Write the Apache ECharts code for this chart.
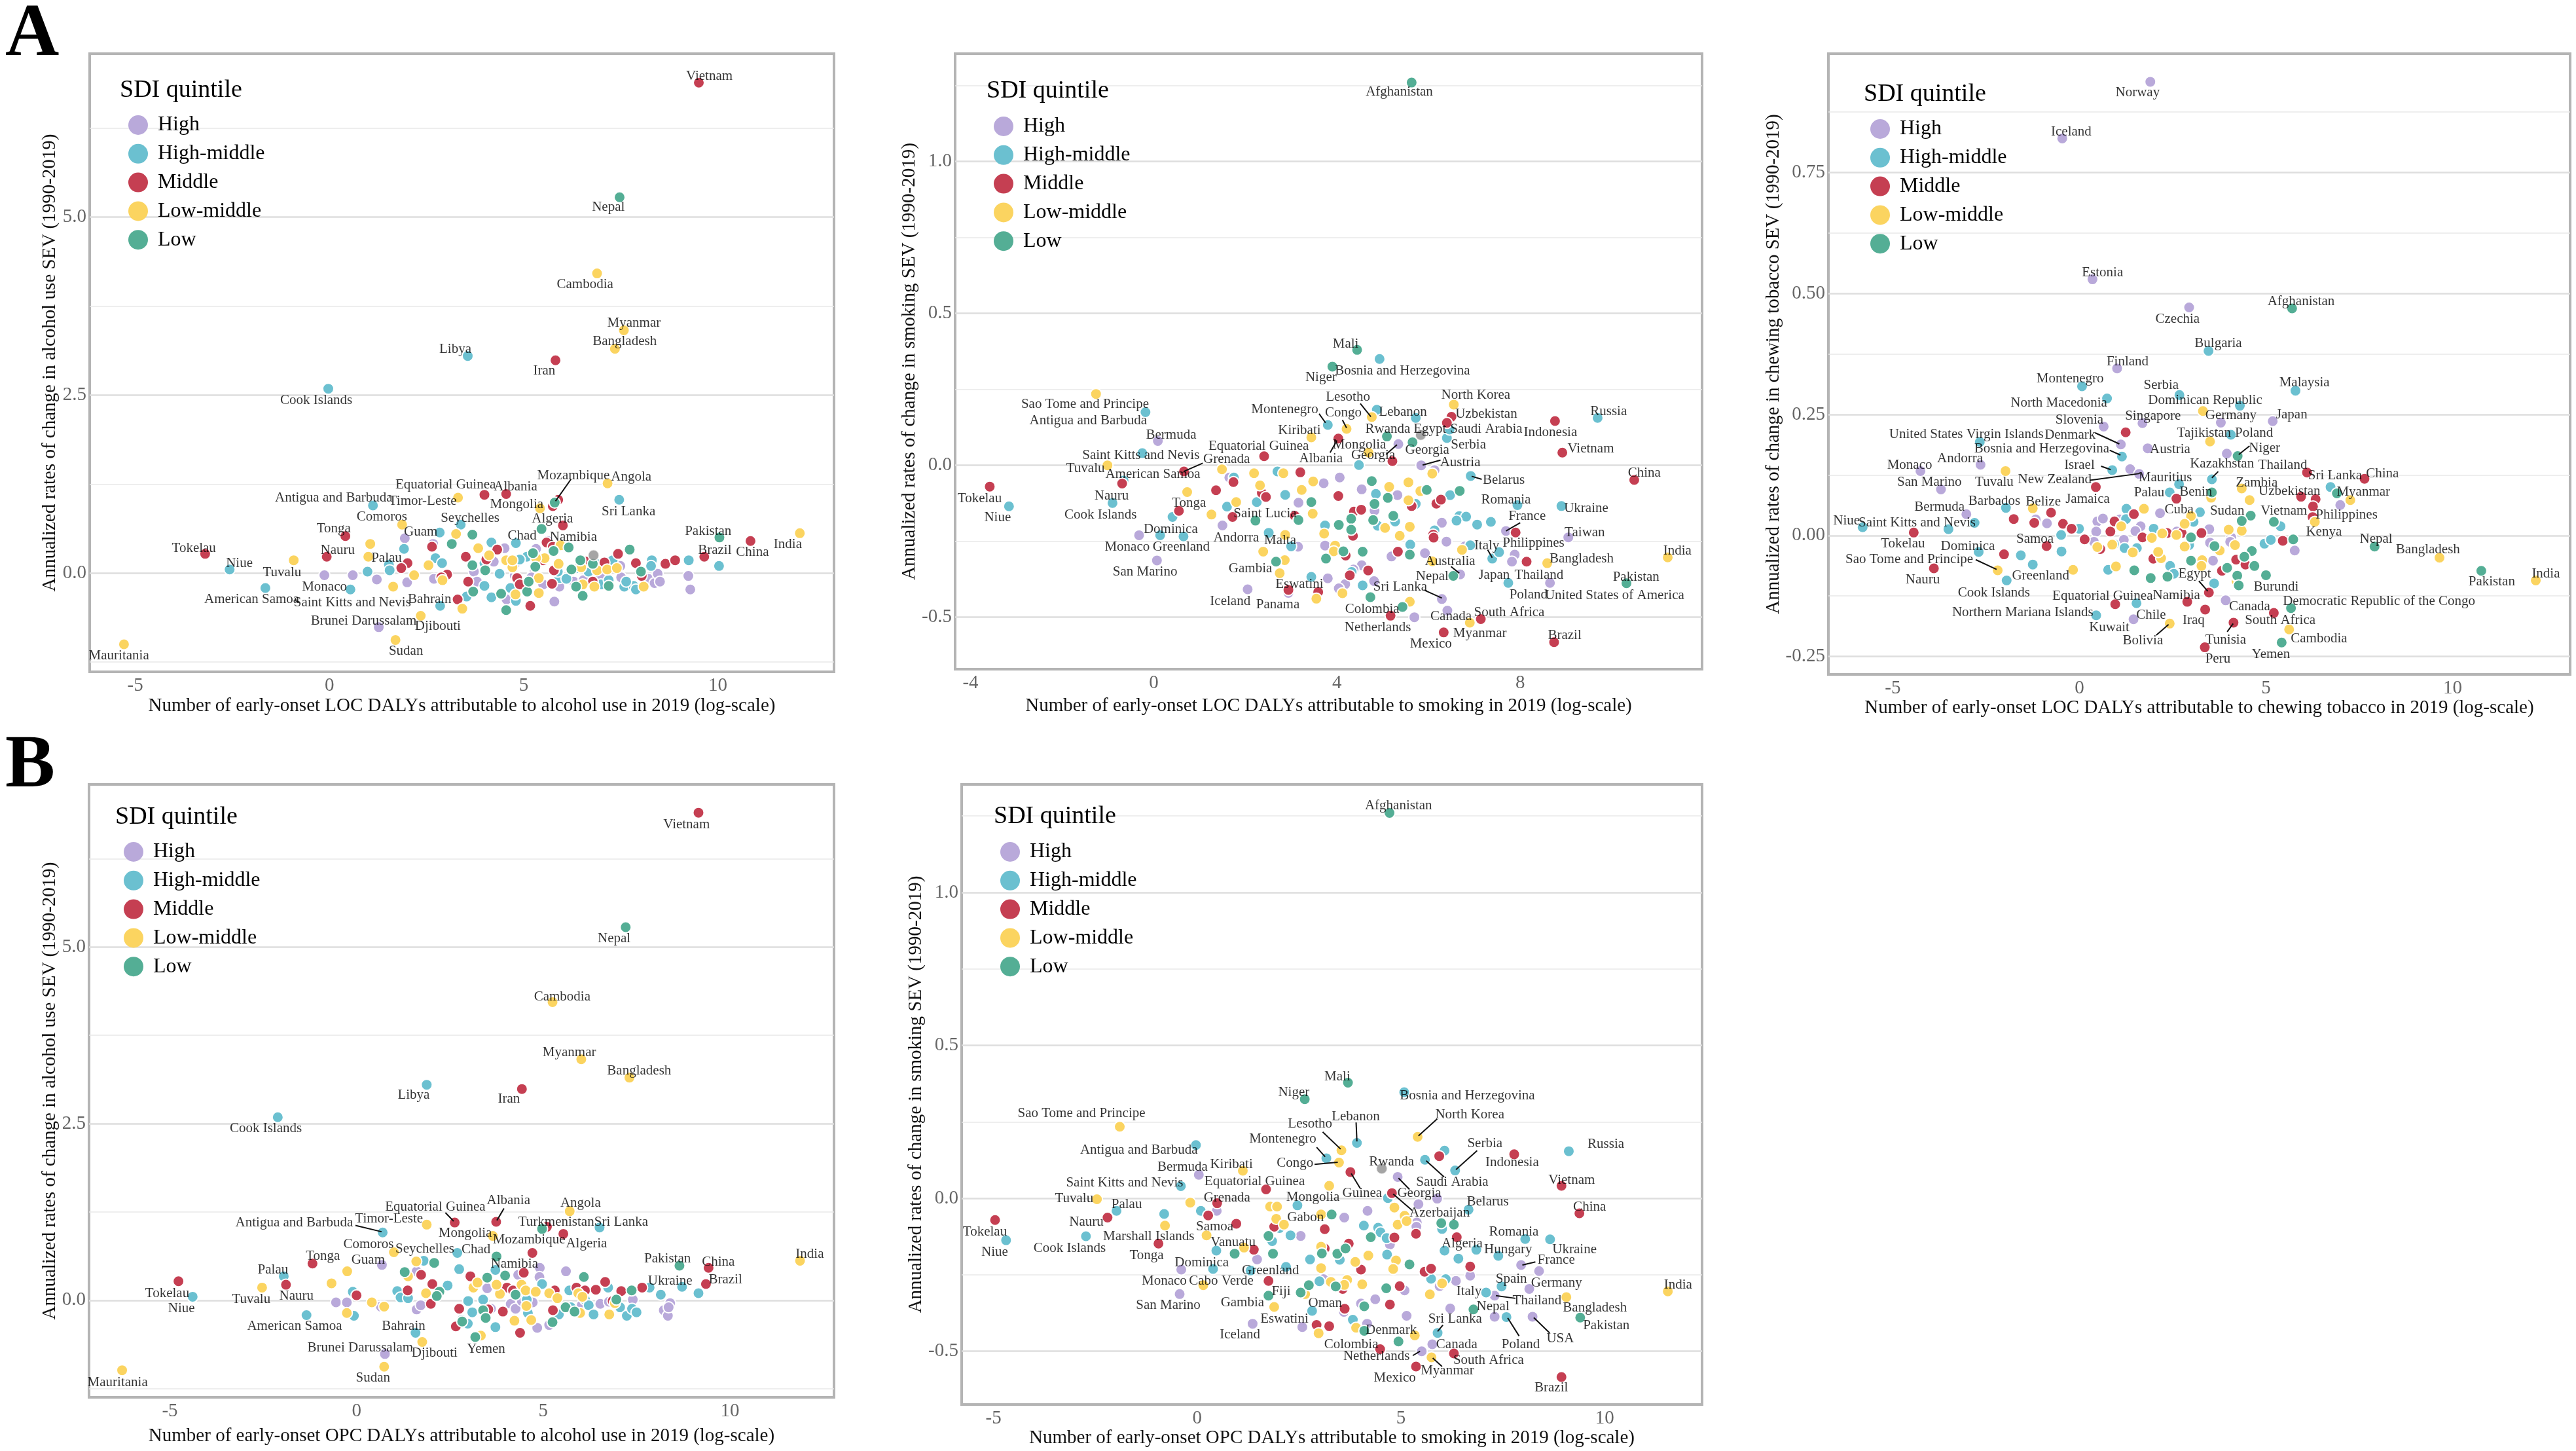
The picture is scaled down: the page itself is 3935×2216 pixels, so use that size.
<!DOCTYPE html>
<html>
<head>
<meta charset="utf-8">
<title>SDI quintile scatter</title>
<style>
html, body { margin: 0; padding: 0; background: #fff; }
#main { width: 3935px; height: 2216px; }
</style>
<script src="https://cdn.jsdelivr.net/npm/echarts@6/dist/echarts.min.js"></script>
</head>
<body>
<div id="main"></div>
<script>
var quintiles = ['High', 'High-middle', 'Middle', 'Low-middle', 'Low'];
var quintileColors = ['#b9a9da', '#6bc0d0', '#c53f52', '#fbd460', '#54ae95'];

// A: LOC, alcohol
var a1High = [[-0.13,-0.03],[0.60,-0.03],[1.22,-0.09],[2.0,-0.13],[1.94,0.49],[2.69,-0.08],[2.67,0.41],[1.27,-0.76],[3.72,0.02],[3.80,-0.12],[4.23,0.16],[4.51,0.35],[4.56,-0.37],[4.77,-0.04],[4.79,0.14],[5.32,0.34],[5.24,-0.02],[5.28,0.02],[5.2,-0.06],[5.5,-0.16],[5.62,0.45],[5.79,-0.40],[5.92,-0.19],[6.29,-0.12],[6.54,-0.10],[6.97,-0.02],[7.49,0.10],[7.51,-0.06],[8.21,-0.08],[8.37,-0.14],[8.45,-0.01],[8.51,-0.12],[9.24,-0.04],[9.29,-0.23]];
var a1HighMiddle = [[-0.03,2.59],[3.56,3.05],[-2.57,0.05],[-1.65,-0.21],[0.54,-0.23],[1.12,0.95],[7.46,1.03],[3.38,0.68],[2.84,0.57],[4.80,0.42],[10.03,0.10],[0.98,0.02],[1.53,0.12],[1.55,0.04],[1.92,0.34],[2.73,0.21],[2.90,0.14],[2.85,-0.46],[3.53,-0.33],[4.17,0.43],[3.99,-0.18],[3.99,0.14],[4.38,-0.01],[4.17,-0.34],[4.80,-0.39],[4.66,-0.21],[5.08,0.23],[4.90,0.19],[5.92,-0.07],[6.10,-0.08],[5.88,0.02],[6.40,0.07],[6.67,0.02],[6.87,0.13],[6.99,-0.16],[7.19,-0.10],[7.29,0.18],[7.59,-0.19],[7.83,-0.18],[7.89,-0.23],[8.30,0.18],[8.28,0.10],[7.64,-0.12],[9.25,0.18]];
var a1Middle = [[9.51,6.89],[5.82,2.99],[5.89,1.03],[4.55,1.11],[3.99,1.10],[5.75,0.94],[6.01,0.67],[0.41,0.52],[10.84,0.45],[9.65,0.23],[-3.20,0.27],[-0.07,0.23],[3.30,-0.37],[2.01,0.14],[1.85,0.07],[2.64,0.37],[3.03,-0.02],[2.88,-0.06],[3.51,0.23],[3.57,-0.12],[4.32,0.33],[4.04,0.19],[5.17,-0.46],[4.83,-0.07],[4.90,-0.16],[5.50,0.18],[5.73,-0.15],[5.78,0.04],[5.59,0.43],[5.75,0.37],[6.61,0.16],[7.08,0.15],[7.43,0.27],[7.89,0.14],[8.04,-0.04],[8.65,0.13],[8.90,0.18],[6.78,-0.12]];
var a1LowMiddle = [[6.89,4.21],[7.58,3.41],[7.35,3.15],[7.16,1.26],[3.31,1.06],[5.42,0.91],[1.87,0.68],[12.11,0.56],[-0.92,0.18],[2.35,-0.60],[1.70,-0.94],[-5.29,-1.0],[1.05,0.41],[1.0,0.23],[2.18,-0.03],[1.64,-0.19],[2.55,0.11],[2.91,-0.10],[3.26,0.55],[3.83,0.35],[4.11,0.25],[4.79,-0.30],[4.55,0.18],[4.71,0.08],[4.71,0.18],[3.42,-0.50],[5.39,-0.28],[5.90,0.13],[5.54,0.21],[5.32,0.21],[5.95,0.39],[5.39,-0.07],[6.48,0.08],[6.89,0.04],[6.52,-0.16],[6.82,-0.19],[7.15,0.05],[7.40,0.07],[8.09,-0.19]];
var a1Low = [[7.47,5.28],[5.80,0.99],[10.04,0.50],[3.68,0.54],[3.15,0.41],[5.46,0.62],[3.68,0.11],[4.01,0.04],[3.70,-0.26],[4.42,-0.29],[4.55,-0.52],[5.09,-0.26],[5.13,-0.12],[5.24,0.28],[5.30,0.09],[5.77,0.31],[6.16,0.36],[6.23,0.05],[6.46,0.18],[6.52,-0.32],[6.35,-0.19],[6.78,0.13],[7.73,0.33],[8.02,0.02],[7.19,-0.18]];
var a1Other = [[6.8,0.25]];
var a1Labels = [['Vietnam',9.78,6.98],['Nepal',7.18,5.14],['Cambodia',6.58,4.05],['Myanmar',7.84,3.51],['Bangladesh',7.60,3.25],['Libya',3.24,3.14],['Iran',5.53,2.84],['Cook Islands',-0.34,2.43],['Mozambique',6.28,1.37],['Angola',7.77,1.35],['Albania',4.79,1.21],['Equatorial Guinea',2.99,1.24],['Timor-Leste',2.40,1.01],['Antigua and Barbuda',0.11,1.06],['Mongolia',4.82,0.96],['Sri Lanka',7.70,0.86],['Algeria',5.74,0.76],['Comoros',1.35,0.79],['Seychelles',3.62,0.77],['Tonga',0.11,0.62],['Guam',2.35,0.58],['Chad',4.96,0.52],['Namibia',6.28,0.50],['Pakistan',9.75,0.59],['China',10.89,0.29],['India',11.80,0.40],['Brazil',9.92,0.32],['Tokelau',-3.49,0.35],['Niue',-2.32,0.14],['Nauru',0.21,0.32],['Tuvalu',-1.22,0.01],['Palau',1.47,0.21],['Monaco',-0.13,-0.20],['American Samoa',-2.0,-0.37],['Saint Kitts and Nevis',0.59,-0.42],['Bahrain',2.58,-0.37],['Brunei Darussalam',0.88,-0.67],['Djibouti',2.79,-0.75],['Sudan',1.97,-1.10],['Mauritania',-5.42,-1.16]];
var a1Links = [[5.82,1.01,6.22,1.32]];

// A: LOC, smoking
var a2High = [[0.09,0.08],[-0.32,-0.23],[0.07,-0.313],[5.34,0.07],[5.84,0],[6.13,-0.016],[7.69,-0.216],[9.05,-0.237],[6.69,-0.359],[7.71,-0.387],[8.65,-0.387],[6.29,-0.44],[6.41,-0.478],[5.69,-0.50],[2.05,-0.408],[2.94,-0.42],[3.15,-0.268],[1.65,-0.04],[1.50,-0.198],[3.71,-0.059],[4.06,-0.04],[4.54,-0.079],[3.16,-0.123],[3.74,-0.264],[4.82,-0.149],[5.32,-0.098],[6.29,-0.189],[6.39,-0.251],[5.92,-0.289],[5.19,-0.30],[6.79,-0.267],[7.88,-0.294],[7.82,-0.317],[4.54,-0.329],[3.80,-0.372],[4.18,-0.391],[4.04,-0.405],[4.81,-0.381],[5.70,-0.127],[4.36,-0.343]];
var a2HighMiddle = [[4.93,0.35],[-0.18,0.175],[-0.25,0.04],[-0.66,-0.05],[-3.16,-0.135],[-0.90,-0.124],[0.41,-0.17],[0.14,-0.23],[0.65,-0.234],[3.80,0.133],[4.87,0.183],[6.40,0.09],[5.72,0.156],[6.46,0.118],[9.69,0.156],[4.48,0.001],[6.92,-0.035],[7.94,-0.131],[8.90,-0.134],[7.39,-0.307],[7.54,-0.286],[7.74,-0.387],[2.51,-0.222],[1.75,-0.04],[2.70,-0.02],[2.25,-0.121],[2.87,-0.097],[1.60,-0.136],[3.74,-0.198],[4.85,-0.094],[4.89,-0.199],[5.27,-0.185],[6.47,-0.098],[5.60,-0.261],[6.67,-0.167],[6.82,-0.169],[6.61,-0.182],[7.06,-0.195],[7.36,-0.186],[6.91,-0.263],[3.44,-0.367],[4.56,-0.395],[5.72,-0.127],[6.13,-0.214],[3.0,-0.267],[4.32,-0.351]];
var a2Middle = [[0.66,-0.02],[-0.69,-0.06],[-3.58,-0.07],[0.55,-0.15],[6.50,0.16],[6.40,0.14],[8.76,0.146],[8.92,0.042],[2.41,0.03],[4.03,0.088],[5.21,0.014],[10.49,-0.048],[7.90,-0.221],[8.14,-0.317],[7.14,-0.506],[6.33,-0.55],[5.17,-0.495],[8.74,-0.582],[2.94,-0.41],[1.74,-0.055],[1.36,-0.082],[1.72,-0.17],[2.36,-0.091],[2.45,-0.104],[3.20,-0.023],[3.08,-0.166],[4.03,-0.101],[4.37,-0.152],[4.53,-0.146],[4.35,-0.232],[4.19,-0.297],[3.59,-0.417],[4.28,-0.362],[4.68,-0.346],[5.33,-0.284],[6.17,-0.126],[6.27,-0.113],[6.10,-0.228],[6.11,-0.238],[5.63,-0.134]];
var a2LowMiddle = [[-1.26,0.235],[-1.01,0],[4.76,0.159],[4.21,0.12],[3.44,0.092],[6.55,0.20],[4.69,0.042],[6.08,-0.027],[11.22,-0.303],[8.59,-0.322],[6.90,-0.518],[5.59,-0.449],[1.49,-0.013],[0.73,-0.088],[1.80,-0.121],[1.26,-0.162],[2.19,-0.026],[2.32,-0.066],[2.83,-0.026],[3.48,-0.053],[3.23,-0.081],[3.47,-0.159],[3.72,-0.225],[3.96,-0.264],[3.93,-0.283],[2.87,-0.229],[2.39,-0.284],[2.86,-0.312],[2.75,-0.355],[3.55,-0.439],[4.12,-0.421],[5.05,-0.206],[5.37,-0.232],[5.59,-0.202],[5.56,-0.056],[5.14,-0.071],[5.82,-0.085],[5.56,-0.115],[6.08,-0.316],[6.73,-0.278]];
var a2Low = [[5.63,1.26],[4.44,0.38],[3.90,0.325],[5.09,0.095],[5.65,0.076],[6.54,-0.364],[10.32,-0.388],[5.43,-0.466],[4.73,-0.434],[2.67,-0.317],[2.22,-0.182],[4.76,-0.052],[3.44,-0.121],[3.16,-0.18],[4.04,-0.196],[4.31,-0.176],[4.31,-0.212],[4.79,-0.18],[4.82,-0.127],[5.11,-0.107],[5.23,-0.166],[4.56,-0.284],[4.14,-0.283],[3.76,-0.307],[5.59,-0.294],[5.96,-0.081],[6.68,-0.084]];
var a2Other = [[5.83,0.10]];
var a2Labels = [['Afghanistan',5.36,1.23],['Mali',4.19,0.40],['Bosnia and Herzegovina',5.43,0.31],['Niger',3.65,0.29],['Sao Tome and Principe',-1.50,0.20],['Antigua and Barbuda',-1.43,0.146],['Bermuda',0.38,0.10],['Saint Kitts and Nevis',-0.28,0.033],['Tuvalu',-1.49,-0.01],['Grenada',1.59,0.02],['American Samoa',-0.02,-0.03],['Tokelau',-3.80,-0.11],['Niue',-3.41,-0.173],['Nauru',-0.92,-0.10],['Cook Islands',-1.16,-0.163],['Tonga',0.77,-0.125],['Dominica',0.37,-0.21],['Monaco',-0.58,-0.27],['Greenland',0.60,-0.27],['San Marino',-0.19,-0.35],['Montenegro',2.86,0.183],['Lesotho',4.24,0.225],['Lebanon',5.44,0.175],['Congo',4.14,0.173],['Kiribati',3.18,0.114],['Rwanda',5.11,0.118],['Egypt',6.03,0.118],['Saudi Arabia',7.26,0.118],['North Korea',7.03,0.23],['Uzbekistan',7.26,0.169],['Indonesia',8.66,0.108],['Russia',9.93,0.177],['Serbia',6.87,0.068],['Vietnam',9.54,0.055],['Equatorial Guinea',2.29,0.062],['Albania',3.65,0.023],['Mongolia',4.49,0.068],['Georgia',4.79,0.032],['Georgia',5.97,0.049],['Austria',6.69,0.01],['Belarus',7.64,-0.049],['China',10.71,-0.026],['Romania',7.69,-0.113],['Ukraine',9.44,-0.141],['France',8.15,-0.167],['Taiwan',9.41,-0.221],['India',11.43,-0.283],['Italy',7.27,-0.264],['Philippines',8.29,-0.257],['Bangladesh',9.34,-0.307],['Australia',6.47,-0.317],['Nepal',6.08,-0.365],['Japan',7.43,-0.362],['Thailand',8.41,-0.362],['Pakistan',10.53,-0.369],['Poland',8.18,-0.427],['United States of America',10.06,-0.429],['Sri Lanka',5.38,-0.401],['Canada',6.49,-0.498],['South Africa',7.76,-0.485],['Myanmar',7.12,-0.554],['Mexico',6.05,-0.587],['Colombia',4.77,-0.473],['Netherlands',4.89,-0.535],['Brazil',8.97,-0.561],['Iceland',1.67,-0.447],['Panama',2.71,-0.459],['Eswatini',3.18,-0.391],['Gambia',2.11,-0.341],['Andorra',1.80,-0.238],['Saint Lucia',2.43,-0.16],['Malta',2.76,-0.248]];
var a2Links = [[0.66,-0.02,1.07,0.007],[3.75,0.14,3.61,0.17],[4.74,0.16,4.51,0.203],[4.21,0.123,4.12,0.149],[4.0,0.082,3.85,0.042],[5.31,0.068,5.07,0.036],[5.87,0.001,6.26,0.017],[6.94,-0.036,7.16,-0.046],[7.69,-0.216,8.0,-0.189],[7.39,-0.304,7.29,-0.278],[6.67,-0.355,6.49,-0.333],[6.29,-0.437,5.91,-0.411]];

// A: LOC, chewing tobacco
var a3High = [[1.90,0.937],[-0.46,0.82],[0.35,0.529],[2.94,0.471],[1.01,0.345],[3.79,0.233],[5.18,0.236],[1.69,0.232],[0.65,0.225],[1.11,0.188],[1.83,0.18],[3.95,0.169],[-2.65,0.146],[-4.26,0.133],[1.36,0.137],[1.60,0.127],[-3.71,0.095],[6.99,0.063],[-3.03,0.044],[2.16,0.046],[1.45,-0.173],[3.92,-0.134],[-1.17,0.033],[-0.87,0.025],[0.48,0.029],[0.63,0.035],[0.45,0.008],[0.39,-0.013],[1.08,0.033],[1.64,0.019],[1.50,0.009],[1.19,-0.009],[2.61,0.008],[3.48,0.013],[3.50,-0.015],[4.07,-0.004],[3.58,-0.052],[5.77,-0.031],[4.04,-0.013]];
var a3HighMiddle = [[3.46,0.381],[0.07,0.308],[5.79,0.299],[2.68,0.29],[0.74,0.283],[4.30,0.268],[4.06,0.208],[-2.67,0.193],[1.14,0.163],[0.88,0.135],[3.55,0.116],[6.73,0.10],[2.67,0.106],[2.42,0.089],[-1.97,0.057],[1.26,0.055],[3.23,0.048],[-5.81,0.017],[-3.51,0.013],[-2.81,0.026],[-2.70,-0.034],[-1.95,-0.093],[-1.25,-0.06],[1.53,-0.14],[0.45,-0.165],[-0.01,0.014],[-0.49,0.001],[-0.48,-0.033],[-1.57,-0.041],[1.25,0.034],[1.99,0.014],[3.06,0.028],[0.93,-0.018],[1.21,-0.026],[1.54,-0.026],[0.77,-0.071],[2.43,-0.063],[2.94,-0.02],[3.61,-0.099],[4.96,-0.017],[5.39,0.019],[5.13,-0.009],[2.53,-0.079]];
var a3Middle = [[1.24,0.213],[6.10,0.13],[7.64,0.117],[5.94,0.08],[6.33,0.075],[6.26,0.06],[0.44,0.10],[2.60,0.076],[-0.76,0.047],[6.25,0.038],[-4.44,0.006],[-0.88,-0.022],[-3.90,-0.068],[3.47,-0.118],[2.89,-0.137],[0.96,-0.142],[3.37,-0.153],[5.21,-0.16],[4.13,-0.18],[3.36,-0.231],[-1.76,0.034],[-1.21,0.026],[-0.44,0.024],[-0.21,0.014],[0.14,-0.008],[-2.02,-0.039],[0.83,0.008],[0.94,0.029],[1.46,0.044],[1.69,-0.004],[2.35,0.005],[2.74,0.005],[3.27,0.005],[0.56,-0.028],[1.98,-0.048],[3.82,-0.073],[4.2,-0.05],[4.45,-0.06],[5.45,-0.011]];
var a3LowMiddle = [[3.31,0.257],[3.50,0.194],[-1.98,0.133],[4.35,0.097],[3.53,0.078],[7.26,0.073],[4.56,0.073],[-1.25,0.056],[1.73,0.055],[2.99,0.04],[6.31,0.028],[9.65,-0.046],[12.23,-0.093],[-2.19,-0.072],[2.42,-0.182],[5.62,-0.194],[-0.17,-0.071],[0.48,-0.024],[0.88,-0.019],[1.12,0.019],[1.43,-0.035],[0.98,-0.064],[1.94,-0.005],[2.22,0.004],[2.19,-0.047],[2.6,0.001],[2.82,0.024],[2.82,-0.023],[2.11,-0.034],[3.29,-0.051],[3.27,-0.063],[3.76,-0.031],[4.17,-0.02],[4.0,0.012],[4.35,0.01],[4.40,-0.043],[4.21,-0.094],[4.23,-0.085]];
var a3Low = [[5.70,0.469],[4.24,0.164],[6.90,0.087],[3.55,0.089],[4.59,0.041],[5.21,0.028],[4.35,0.03],[7.91,-0.023],[10.77,-0.073],[5.0,-0.082],[5.67,-0.15],[5.42,-0.221],[1.47,-0.072],[1.91,-0.088],[2.36,-0.085],[2.99,-0.052],[2.99,-0.004],[3.62,-0.022],[3.96,-0.067],[4.23,-0.083],[4.27,-0.103],[4.62,-0.032],[4.42,-0.044],[4.69,-0.063],[5.73,-0.008]];
var a3Other = [];
var a3Labels = [['Norway',1.56,0.915],['Iceland',-0.22,0.834],['Estonia',0.62,0.543],['Czechia',2.63,0.446],['Afghanistan',5.94,0.483],['Bulgaria',3.72,0.396],['Finland',1.29,0.359],['Montenegro',-0.25,0.324],['Malaysia',6.03,0.316],['Serbia',2.19,0.31],['North Macedonia',-0.55,0.274],['Dominican Republic',3.37,0.279],['Germany',4.06,0.248],['Japan',5.69,0.249],['Singapore',1.97,0.247],['Slovenia',0,0.239],['Tajikistan',3.34,0.212],['Poland',4.68,0.212],['Denmark',-0.25,0.207],['United States Virgin Islands',-3.03,0.208],['Bosnia and Herzegovina',-1.01,0.179],['Austria',2.43,0.178],['Niger',4.96,0.18],['Andorra',-3.20,0.159],['Monaco',-4.55,0.145],['Tuvalu',-2.28,0.11],['Israel',0,0.145],['Kazakhstan',3.82,0.148],['Thailand',5.45,0.145],['Sri Lanka',6.85,0.123],['China',8.12,0.128],['New Zealand',-0.66,0.116],['Mauritius',2.30,0.12],['San Marino',-4.02,0.11],['Zambia',4.75,0.109],['Uzbekistan',5.63,0.091],['Myanmar',7.61,0.089],['Jamaica',0.22,0.075],['Palau',1.87,0.088],['Benin',3.12,0.089],['Philippines',7.16,0.042],['Belize',-0.97,0.07],['Barbados',-2.28,0.071],['Bermuda',-3.75,0.058],['Cuba',2.67,0.053],['Sudan',3.96,0.05],['Vietnam',5.48,0.05],['Kenya',6.55,0.007],['Niue',-6.24,0.03],['Saint Kitts and Nevis',-4.35,0.026],['Tokelau',-4.73,-0.017],['Dominica',-2.99,-0.022],['Samoa',-1.19,-0.008],['Nepal',7.95,-0.008],['Bangladesh',9.34,-0.03],['Pakistan',11.05,-0.096],['India',12.5,-0.08],['Sao Tome and Principe',-4.56,-0.049],['Nauru',-4.20,-0.092],['Greenland',-1.04,-0.084],['Cook Islands',-2.29,-0.118],['Burundi',5.27,-0.106],['Egypt',3.09,-0.08],['Namibia',2.60,-0.124],['Equatorial Guinea',0.62,-0.126],['Northern Mariana Islands',-1.52,-0.159],['Chile',1.92,-0.164],['Kuwait',0.80,-0.19],['Bolivia',1.70,-0.218],['Iraq',3.06,-0.176],['Canada',4.56,-0.147],['Democratic Republic of the Congo',8.03,-0.136],['South Africa',5.38,-0.176],['Tunisia',3.92,-0.216],['Cambodia',6.42,-0.213],['Yemen',5.13,-0.246],['Peru',3.71,-0.255]];
var a3Links = [[1.07,0.189,0.42,0.212],[1.10,0.166,0.81,0.176],[4.27,0.167,4.56,0.185],[0.84,0.136,0.58,0.143],[3.55,0.119,3.72,0.132],[0.28,0.114,1.62,0.128],[-2.22,-0.07,-2.78,-0.05],[3.44,-0.115,3.2,-0.094],[2.39,-0.184,2.06,-0.206],[4.12,-0.182,3.96,-0.199]];

// B: OPC, alcohol
var b1High = [[0.68,0.50],[0.76,-0.76],[-0.55,-0.03],[-0.26,-0.03],[0.65,-0.09],[1.61,-0.13],[1.72,-0.07],[1.61,0.41],[3.50,0.17],[3.60,-0.12],[4.13,-0.05],[4.26,-0.12],[4.33,0.36],[4.43,-0.01],[4.72,-0.03],[4.91,0.46],[4.90,0.33],[4.84,-0.39],[5.16,-0.35],[5.61,0.41],[6.03,-0.07],[6.53,-0.05],[6.76,-0.02],[7.40,0.01],[8.23,-0.14],[8.40,-0.04],[8.34,-0.22],[8.36,-0.10]];
var b1HighMiddle = [[1.88,3.05],[-2.11,2.59],[0.70,0.96],[6.51,1.03],[2.70,0.67],[3.72,0.43],[-1.95,0.34],[-4.39,0.05],[8.72,0.19],[9.16,0.10],[8.15,0.08],[-1.34,-0.21],[1.58,-0.46],[-0.10,0.12],[-0.07,-0.22],[1.09,0.13],[1.18,0.04],[1.38,0.03],[1.80,0.56],[2.44,0.21],[2.22,0.11],[2.75,0.44],[2.99,-0.01],[3.10,-0.17],[2.82,-0.28],[2.98,-0.33],[3.72,-0.38],[4.56,0.01],[4.59,-0.18],[4.97,0.23],[5.70,0.14],[6.12,0.01],[5.74,-0.10],[6.22,-0.07],[6.35,-0.20],[6.74,0.18],[7.06,-0.10],[7.24,-0.22],[7.38,-0.12],[7.50,-0.17],[7.85,0.18],[5.42,-0.20],[3.39,0.01]];
var b1Middle = [[9.16,6.90],[4.43,2.99],[3.74,1.11],[2.63,1.10],[5.10,1.04],[5.54,0.94],[4.71,0.67],[-1.18,0.52],[9.43,0.46],[-1.89,0.22],[-4.77,0.27],[9.36,0.23],[0,0.07],[1.37,0.14],[1.73,0.36],[1.99,-0.05],[2.03,0.23],[3.05,0.34],[2.75,-0.12],[2.66,-0.37],[3.92,-0.16],[4.03,0.18],[4.19,0.14],[4.38,-0.46],[4.48,0.39],[5.31,0.14],[5.26,-0.14],[5.89,0.18],[6.12,0.14],[6.41,0.15],[6.66,0.26],[7.09,0.13],[6.86,-0.01],[7.65,0.18],[3.53,-0.13]];
var b1LowMiddle = [[5.25,4.22],[6.02,3.41],[7.31,3.15],[5.71,1.26],[1.88,1.07],[3.65,0.91],[1.0,0.68],[11.88,0.56],[-2.53,0.18],[1.76,-0.59],[0.74,-0.94],[3.33,-0.50],[-6.28,-0.99],[-0.67,0.24],[-0.25,0.41],[-0.26,-0.18],[0.41,-0.03],[0.74,-0.09],[1.60,0.55],[1.38,0.34],[1.86,0.10],[3.13,0.18],[3.24,0.25],[3.84,0.09],[3.75,0.22],[4.23,-0.29],[4.42,0.22],[4.53,0.14],[4.55,-0.08],[4.68,-0.28],[4.80,0.12],[5.16,0.10],[5.38,0.03],[5.94,0.10],[6.05,0.05],[5.99,-0.18],[6.77,-0.20],[6.92,-0.04]];
var b1Low = [[7.21,5.28],[4.97,1.01],[3.75,0.62],[8.65,0.49],[3.18,-0.52],[1.29,0.40],[2.08,0.53],[3.50,0.32],[3.98,0.35],[6.09,0.33],[7.37,0.14],[2.22,0.12],[2.15,0.06],[2.83,-0.30],[3.39,-0.14],[3.46,-0.25],[4.26,0.08],[5.25,-0.31],[5.60,-0.10],[5.84,-0.16],[6.96,0.01]];
var b1Other = [];
var b1Labels = [['Vietnam',8.84,6.73],['Nepal',6.90,5.12],['Cambodia',5.51,4.29],['Myanmar',5.70,3.51],['Bangladesh',7.57,3.25],['Libya',1.53,2.90],['Iran',4.08,2.85],['Cook Islands',-2.43,2.43],['Albania',4.07,1.41],['Equatorial Guinea',2.11,1.32],['Angola',6.0,1.37],['Timor-Leste',0.87,1.15],['Antigua and Barbuda',-1.67,1.10],['Turkmenistan',5.35,1.11],['Sri Lanka',7.09,1.11],['Mongolia',2.91,0.95],['Mozambique',4.62,0.86],['Algeria',6.16,0.80],['Comoros',0.32,0.79],['Seychelles',1.83,0.73],['Chad',3.2,0.72],['Tonga',-0.90,0.62],['Guam',0.31,0.57],['Namibia',4.23,0.51],['Pakistan',8.33,0.59],['China',9.69,0.54],['India',12.14,0.65],['Palau',-2.24,0.43],['Nauru',-1.61,0.06],['Tuvalu',-2.82,0.01],['Tokelau',-5.07,0.10],['Niue',-4.69,-0.12],['Ukraine',8.40,0.27],['Brazil',9.88,0.29],['American Samoa',-1.66,-0.37],['Bahrain',1.26,-0.37],['Brunei Darussalam',0.10,-0.67],['Djibouti',2.09,-0.75],['Sudan',0.44,-1.10],['Yemen',3.47,-0.69],['Mauritania',-6.40,-1.16]];
var b1Links = [[3.76,1.13,3.95,1.30],[2.60,1.12,2.38,1.24],[0.67,0.97,-0.03,1.06]];

// B: OPC, smoking
var b2High = [[0.04,0.077],[4.92,0.07],[5.43,-0.019],[5.89,-0.001],[7.95,-0.218],[8.15,-0.296],[7.30,-0.318],[7.30,-0.387],[8.23,-0.387],[5.77,-0.477],[5.51,-0.50],[-0.39,-0.233],[-0.43,-0.313],[1.36,-0.41],[2.58,-0.421],[0.48,-0.041],[1.47,-0.20],[2.54,-0.123],[3.61,-0.063],[4.18,-0.041],[5.39,-0.079],[5.38,-0.093],[4.73,-0.151],[4.37,-0.33],[4.02,-0.344],[3.60,-0.371],[4.17,-0.41],[5.14,-0.384],[5.09,-0.301],[5.95,-0.287],[6.35,-0.27],[6.70,-0.253],[6.21,-0.36],[8.39,-0.238],[3.10,-0.264]];
var b2HighMiddle = [[5.08,0.347],[-0.03,0.174],[3.92,0.181],[3.17,0.131],[-0.40,0.04],[-1.98,-0.041],[-4.69,-0.137],[-2.73,-0.124],[4.68,0.001],[9.12,0.154],[6.33,0.091],[5.59,0.126],[6.07,0.156],[6.66,-0.037],[2.46,-0.023],[8.05,-0.133],[8.66,-0.134],[6.07,-0.171],[7.39,-0.188],[7.47,-0.288],[7.09,-0.308],[7.59,-0.388],[5.90,-0.44],[0.39,-0.231],[1.31,-0.236],[-0.81,-0.051],[0.09,-0.041],[0.47,-0.171],[1.84,-0.14],[2.29,-0.121],[2.02,-0.097],[2.18,-0.224],[2.77,-0.20],[3.50,-0.201],[3.0,-0.271],[4.09,-0.089],[4.44,-0.096],[4.50,-0.111],[4.65,-0.13],[4.66,-0.184],[2.82,-0.368],[3.82,-0.397],[6.01,-0.079],[6.01,-0.10],[5.74,-0.263],[6.10,-0.264],[6.41,-0.197],[6.85,-0.168]];
var b2Middle = [[-2.20,-0.063],[-4.96,-0.071],[-0.95,-0.148],[0.49,-0.016],[1.69,0.029],[3.76,0.086],[4.78,0.017],[7.78,0.144],[5.94,0.138],[8.94,0.041],[9.38,-0.049],[1.89,-0.093],[6.30,-0.507],[5.37,-0.55],[4.49,-0.493],[8.94,-0.584],[1.75,-0.27],[0.27,-0.056],[0.96,-0.083],[1.39,-0.168],[2.93,-0.414],[3.24,-0.418],[3.13,-0.101],[3.13,-0.164],[3.72,-0.148],[3.57,-0.296],[3.62,-0.361],[4.02,-0.233],[4.73,-0.347],[4.97,-0.287],[4.84,-0.128],[5.37,-0.116],[5.58,-0.24],[5.74,-0.23],[6.37,-0.127],[6.70,-0.223]];
var b2LowMiddle = [[-1.90,0.234],[3.54,0.157],[5.41,0.201],[3.48,0.117],[1.12,0.09],[-2.46,-0.003],[0.23,-0.121],[9.06,-0.323],[11.55,-0.304],[5.75,-0.52],[0.15,-0.284],[1.15,-0.161],[-0.17,-0.014],[-0.79,-0.089],[1.89,-0.355],[1.79,-0.027],[1.96,-0.027],[1.94,-0.067],[2.13,-0.086],[3.24,0.041],[3.04,-0.053],[3.04,-0.158],[3.04,-0.228],[3.88,-0.208],[4.20,-0.187],[4.88,-0.203],[4.81,-0.231],[4.84,-0.03],[5.09,-0.057],[4.92,-0.086],[5.14,-0.074],[4.05,-0.281],[3.28,-0.273],[3.68,-0.267],[3.61,-0.283],[2.65,-0.313],[2.98,-0.441],[3.90,-0.423],[5.34,-0.448],[5.71,-0.314],[6.01,-0.278]];
var b2Low = [[4.72,1.26],[3.70,0.378],[2.64,0.324],[6.78,-0.363],[9.40,-0.39],[4.10,-0.433],[1.75,-0.318],[2.54,-0.308],[0.92,-0.181],[1.86,-0.181],[1.75,-0.123],[3.30,-0.053],[3.06,-0.18],[3.44,-0.181],[3.64,-0.164],[4.26,-0.127],[2.74,-0.284],[3.40,-0.288],[4.10,-0.353],[5.21,-0.216],[4.64,-0.294],[4.94,-0.468],[5.99,-0.081],[6.30,-0.086]];
var b2Other = [[4.53,0.097]];
var b2Labels = [['Afghanistan',4.94,1.283],['Mali',3.44,0.398],['Bosnia and Herzegovina',6.63,0.335],['Niger',2.37,0.347],['Sao Tome and Principe',-2.84,0.277],['Antigua and Barbuda',-1.43,0.157],['Lebanon',3.89,0.267],['Lesotho',2.77,0.243],['North Korea',6.69,0.274],['Montenegro',2.10,0.193],['Congo',2.40,0.114],['Kiribati',0.84,0.111],['Bermuda',-0.36,0.101],['Saint Kitts and Nevis',-1.78,0.05],['Tuvalu',-3.02,0],['Palau',-1.73,-0.02],['Nauru',-2.72,-0.077],['Tokelau',-5.21,-0.11],['Niue',-4.97,-0.176],['Cook Islands',-3.13,-0.163],['Marshall Islands',-1.19,-0.126],['Tonga',-1.24,-0.186],['Grenada',0.73,0.001],['Samoa',0.43,-0.093],['Equatorial Guinea',1.41,0.054],['Rwanda',4.77,0.118],['Guinea',4.05,0.016],['Georgia',5.45,0.017],['Azerbaijan',5.95,-0.047],['Russia',10.03,0.177],['Indonesia',7.73,0.117],['Serbia',7.06,0.178],['Saudi Arabia',6.26,0.053],['Vietnam',9.19,0.06],['China',9.63,-0.029],['Belarus',7.13,-0.011],['Mongolia',2.84,0.004],['Gabon',2.66,-0.063],['Romania',7.77,-0.111],['Ukraine',9.26,-0.167],['Algeria',6.50,-0.148],['Hungary',7.63,-0.167],['France',8.81,-0.203],['Spain',7.71,-0.264],['Germany',8.82,-0.276],['Italy',6.67,-0.304],['Thailand',8.34,-0.334],['Bangladesh',9.76,-0.358],['India',11.80,-0.283],['Pakistan',10.04,-0.415],['Nepal',7.26,-0.355],['Poland',7.94,-0.478],['USA',8.91,-0.458],['Sri Lanka',6.33,-0.395],['Denmark',4.76,-0.43],['Canada',6.37,-0.478],['South Africa',7.15,-0.53],['Myanmar',6.14,-0.564],['Netherlands',4.40,-0.517],['Mexico',4.85,-0.587],['Colombia',3.78,-0.478],['Brazil',8.69,-0.62],['Dominica',0.11,-0.211],['Monaco',-0.81,-0.271],['Greenland',1.80,-0.236],['Cabo Verde',0.59,-0.27],['San Marino',-0.71,-0.35],['Fiji',2.06,-0.304],['Gambia',1.11,-0.341],['Vanuatu',0.88,-0.144],['Oman',3.14,-0.343],['Iceland',1.05,-0.445],['Eswatini',2.14,-0.394]];
var b2Links = [[3.92,0.186,3.90,0.248],[3.52,0.161,3.08,0.217],[5.43,0.204,5.89,0.26],[3.14,0.136,2.93,0.167],[3.45,0.118,2.88,0.111],[3.78,0.081,4.0,0.033],[4.94,0.066,5.21,0.029],[4.81,0.014,5.28,-0.04],[6.35,0.094,6.87,0.156],[5.62,0.123,6.06,0.07],[5.78,-0.522,6.01,-0.55],[5.47,-0.50,5.29,-0.514],[7.62,-0.391,7.90,-0.45],[8.26,-0.39,8.65,-0.44],[5.90,-0.435,6.03,-0.414],[7.98,-0.218,8.30,-0.208],[7.33,-0.318,7.81,-0.327]];

var alcoholTicks = [0, 2.5, 5];
var alcoholMinor = [-1.25, 1.25, 3.75, 6.25];
var smokingTicks = [-0.5, 0, 0.5, 1];
var smokingMinor = [-0.25, 0.25, 0.75, 1.25];
var chewingTicks = [-0.25, 0, 0.25, 0.5, 0.75];
var chewingMinor = [-0.125, 0.125, 0.375, 0.625, 0.875];

var panels = [
    { box: [137, 82, 1274, 1026], xr: [-6.173, 12.99], yr: [-1.387, 7.297], xt: [-5, 0, 5, 10], yt: alcoholTicks, ym: alcoholMinor, dec: 1,
      xn: 'Number of early-onset LOC DALYs attributable to alcohol use in 2019 (log-scale)', yn: 'Annualized rates of change in alcohol use SEV (1990-2019)',
      xGap: 38, yGap: 46, leg: [191, 170], head: [178, 114], series: [a1High, a1HighMiddle, a1Middle, a1LowMiddle, a1Low], other: a1Other, labels: a1Labels, links: a1Links },
    { box: [1459, 82, 2600, 1022], xr: [-4.336, 11.97], yr: [-0.671, 1.355], xt: [-4, 0, 4, 8], yt: smokingTicks, ym: smokingMinor, dec: 1,
      xn: 'Number of early-onset LOC DALYs attributable to smoking in 2019 (log-scale)', yn: 'Annualized rates of change in smoking SEV (1990-2019)',
      xGap: 42, yGap: 41, leg: [1513, 172], head: [1502, 115], series: [a2High, a2HighMiddle, a2Middle, a2LowMiddle, a2Low], other: a2Other, labels: a2Labels, links: a2Links },
    { box: [2793, 82, 3926, 1030], xr: [-6.727, 13.15], yr: [-0.287, 0.995], xt: [-5, 0, 5, 10], yt: chewingTicks, ym: chewingMinor, dec: 2,
      xn: 'Number of early-onset LOC DALYs attributable to chewing tobacco in 2019 (log-scale)', yn: 'Annualized rates of change in chewing tobacco SEV (1990-2019)',
      xGap: 34, yGap: 51, leg: [2852, 176], head: [2842, 120], series: [a3High, a3HighMiddle, a3Middle, a3LowMiddle, a3Low], other: a3Other, labels: a3Labels, links: a3Links },
    { box: [136, 1198, 1274, 2134], xr: [-7.166, 12.79], yr: [-1.373, 7.30], xt: [-5, 0, 5, 10], yt: alcoholTicks, ym: alcoholMinor, dec: 1,
      xn: 'Number of early-onset OPC DALYs attributable to alcohol use in 2019 (log-scale)', yn: 'Annualized rates of change in alcohol use SEV (1990-2019)',
      xGap: 45, yGap: 45, leg: [184, 1280], head: [171, 1224], series: [b1High, b1HighMiddle, b1Middle, b1LowMiddle, b1Low], other: b1Other, labels: b1Labels, links: b1Links },
    { box: [1469, 1198, 2600, 2145], xr: [-5.78, 12.39], yr: [-0.674, 1.353], xt: [-5, 0, 5, 10], yt: smokingTicks, ym: smokingMinor, dec: 1,
      xn: 'Number of early-onset OPC DALYs attributable to smoking in 2019 (log-scale)', yn: 'Annualized rates of change in smoking SEV (1990-2019)',
      xGap: 35, yGap: 51, leg: [1523, 1280], head: [1513, 1223], series: [b2High, b2HighMiddle, b2Middle, b2LowMiddle, b2Low], other: b2Other, labels: b2Labels, links: b2Links }
];

var font = 'Liberation Serif';
var W = 3935, H = 2216;
var grid = [], xAxis = [], yAxis = [], legend = [], title = [], series = [];

title.push({ text: 'A', left: 3, top: -7, textStyle: { fontFamily: font, fontSize: 114, fontWeight: 'bold', color: '#000' } });
title.push({ text: 'B', left: 3, top: 1110, textStyle: { fontFamily: font, fontSize: 114, fontWeight: 'bold', color: '#000' } });

panels.forEach(function (p, i) {
    grid.push({
        left: p.box[0], top: p.box[1], width: p.box[2] - p.box[0], height: p.box[3] - p.box[1],
        show: true, borderColor: '#b4b4b4', borderWidth: 4, backgroundColor: 'transparent', containLabel: false
    });
    xAxis.push({
        type: 'value', gridIndex: i, min: p.xr[0], max: p.xr[1],
        name: p.xn, nameLocation: 'middle', nameGap: p.xGap,
        nameTextStyle: { fontFamily: font, fontSize: 29, color: '#111' },
        axisLine: { show: false }, splitLine: { show: false },
        axisTick: { show: false, customValues: p.xt },
        axisLabel: { customValues: p.xt, margin: 7, fontFamily: font, fontSize: 29, color: '#666' }
    });
    // major lines and tick labels
    yAxis.push({
        type: 'value', gridIndex: i, min: p.yr[0], max: p.yr[1],
        name: p.yn, nameLocation: 'middle', nameGap: p.yGap,
        nameTextStyle: { fontFamily: font, fontSize: 29, color: '#111' },
        axisLine: { show: false },
        axisTick: { show: false, customValues: p.yt },
        splitLine: { show: true, lineStyle: { color: '#dedede', width: 2.5 } },
        axisLabel: {
            customValues: p.yt, margin: 5, fontFamily: font, fontSize: 29, color: '#666',
            formatter: function (v) { return v.toFixed(p.dec); }
        }
    });
    // the lighter lines half way between
    yAxis.push({
        type: 'value', gridIndex: i, min: p.yr[0], max: p.yr[1], position: 'left',
        axisLine: { show: false }, axisLabel: { show: false },
        axisTick: { show: false, customValues: p.ym },
        splitLine: { show: true, lineStyle: { color: '#e9e9e9', width: 1.5 } }
    });
    var yIdx = i * 2;

    title.push({ text: 'SDI quintile', left: p.head[0], top: p.head[1], textStyle: { fontFamily: font, fontSize: 38, fontWeight: 'normal', color: '#000' } });
    legend.push({
        data: quintiles, orient: 'vertical', left: p.leg[0], top: p.leg[1], selectedMode: false,
        itemWidth: 30, itemHeight: 30, itemGap: 11.8, icon: 'circle',
        itemStyle: { borderWidth: 0 },
        textStyle: { fontFamily: font, fontSize: 32, color: '#000', padding: [0, 0, 0, 10] }
    });

    p.series.forEach(function (pts, k) {
        series.push({
            name: quintiles[k], type: 'scatter', xAxisIndex: i, yAxisIndex: yIdx, data: pts,
            symbolSize: 17, z: 3, silent: true,
            itemStyle: { color: quintileColors[k], borderColor: '#fff', borderWidth: 2, opacity: 1 }
        });
    });
    if (p.other.length) {
        series.push({
            name: 'Other', type: 'scatter', xAxisIndex: i, yAxisIndex: yIdx, data: p.other,
            symbolSize: 17, z: 3, silent: true,
            itemStyle: { color: '#8f8f8f', borderColor: '#fff', borderWidth: 2 }
        });
    }
    series.push({
        type: 'lines', coordinateSystem: 'cartesian2d', xAxisIndex: i, yAxisIndex: yIdx, z: 4, silent: true,
        lineStyle: { color: '#111', width: 2, opacity: 1 },
        data: p.links.map(function (s) { return { coords: [[s[0], s[1]], [s[2], s[3]]] }; })
    });
    series.push({
        type: 'scatter', xAxisIndex: i, yAxisIndex: yIdx, z: 5, silent: true, symbolSize: 1,
        itemStyle: { color: 'rgba(0,0,0,0)', borderWidth: 0 },
        label: {
            show: true, position: 'inside', fontFamily: font, fontSize: 21, color: '#000',
            formatter: function (d) { return d.name; }
        },
        data: p.labels.map(function (l) { return { name: l[0], value: [l[1], l[2]] }; })
    });
});

var myChart = echarts.init(document.getElementById('main'), null, { width: W, height: H, renderer: 'canvas' });
myChart.setOption({
    backgroundColor: '#fff',
    animation: false,
    tooltip: { show: false },
    title: title, grid: grid, xAxis: xAxis, yAxis: yAxis, legend: legend, series: series
});
</script>
</body>
</html>
